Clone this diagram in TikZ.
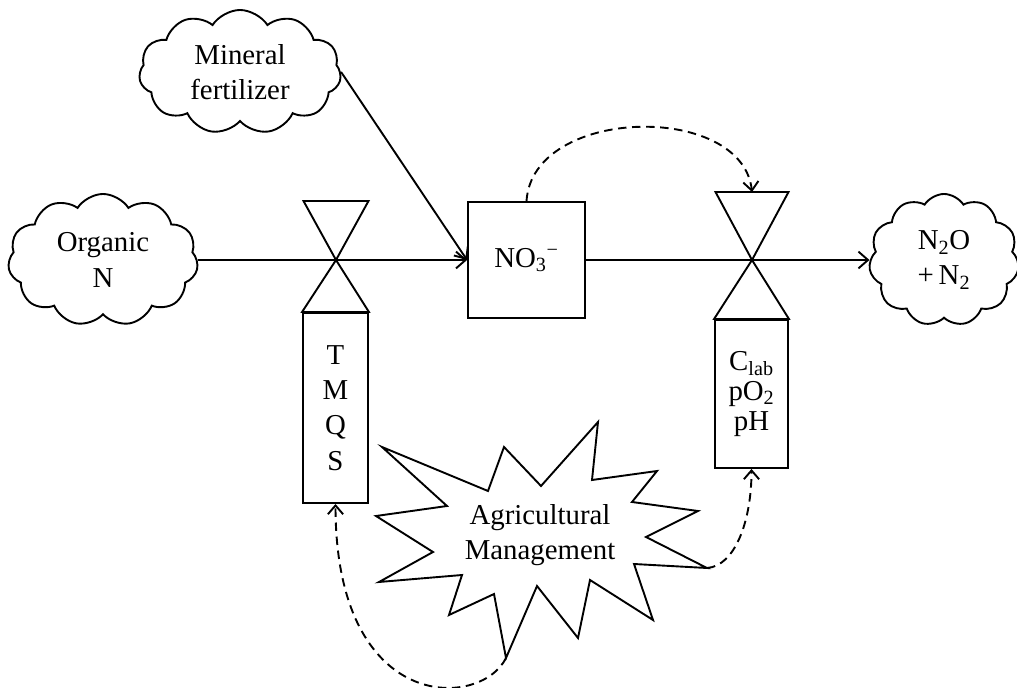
\documentclass[tikz,border=0pt]{standalone}
\usepackage{fontspec}
\setmainfont{Liberation Serif}
\usetikzlibrary{arrows.meta,shapes.symbols}

\begin{document}
\begin{tikzpicture}[x=0.025cm, y=-0.025cm, line width=1.35pt,
  every node/.style={font=\fontsize{20.5}{25}\selectfont, align=center, inner sep=0pt},
  puff/.style={draw, cloud, cloud puffs=11, cloud puff arc=115, cloud ignores aspect},
  flow/.style={-{Straight Barb[length=2.4mm,width=4.2mm]}},
  ctrl/.style={dash pattern=on 6pt off 4pt, -{Straight Barb[length=2.2mm,width=3.8mm]}}]
  \useasboundingbox (0,0) rectangle (1017,688);
  % sources and sink
  \node[puff, minimum width=5.05cm, minimum height=3.1cm] (min) at (240,72) {Mineral\\fertilizer};
  \node[puff, minimum width=4.75cm, minimum height=3.3cm] (org) at (103,260) {Organic\\N};
  \node[puff, minimum width=3.75cm, minimum height=3.3cm] (gas) at (944,260) {N\textsubscript{2}O\\+\,N\textsubscript{2}};
  % nitrate pool
  \node[draw, minimum width=2.925cm, minimum height=2.9cm] (no3) at (526.5,260) {NO\textsubscript{3}\textsuperscript{−}};
  % valves and what sets them
  \coordinate (vl) at (336,260);
  \coordinate (vr) at (752,260);
  \coordinate (vrtop) at (752,192);
  \node[draw, minimum width=1.625cm, minimum height=4.75cm] (tmqs) at (335.5,408) {T\\M\\Q\\S};
  \node[draw, minimum width=1.825cm, minimum height=3.7cm,
        font=\fontsize{20.5}{21}\selectfont] (clab) at (751.5,394) {C\textsubscript{lab}\\pO\textsubscript{2}\\pH};
  \draw (tmqs.north west) -- (vl) -- (tmqs.north east) -- cycle;
  \draw (vl) -- ++(-32.5,-59) -- ++(65,0) -- cycle;
  \draw (clab.north west) -- (vr) -- (clab.north east) -- cycle;
  \draw (vr) -- ++(-36.5,-68) -- ++(73,0) -- cycle;
  % flows
  \draw[flow] (org.east) -- (no3.west);
  \draw[flow] (min.east) -- (no3.west);
  \draw[flow] (no3.east) -- (gas.west);
  % management
  \draw[line join=miter] (382,447) -- (488,491) -- (504,447) -- (541,486) -- (598,422) -- (592,480)
    -- (657,471) -- (632,502) -- (698,511) -- (646,537) -- (707,568) coordinate (starR) -- (634,564)
    -- (653,620) -- (590,580) -- (578,638) -- (537,586) -- (506,658) coordinate (starB) -- (494,594)
    -- (449,615) -- (462,575) -- (379,582) -- (433,552) -- (376,516) -- (447,506) -- cycle;
  \node (agri) at (540,535) {Agricultural\\Management};
  % control links
  \draw[ctrl] (no3.north) .. controls +(6,-95) and +(-10,-90) .. (vrtop);
  \draw[ctrl] (starR) .. controls +(28,-2) and +(0,52) .. (clab.south);
  \draw[ctrl] (starB) .. controls +(-26,52) and +(0,210) .. (tmqs.south);
\end{tikzpicture}
\end{document}
